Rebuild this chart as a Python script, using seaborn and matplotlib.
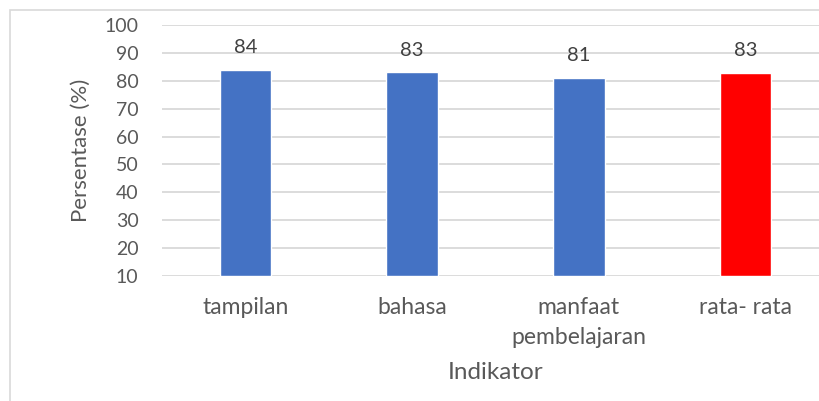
import matplotlib
matplotlib.use("Agg")
import matplotlib.pyplot as plt
import pandas as pd
import seaborn as sns
from matplotlib.patches import Rectangle

# data
categories = ["tampilan", "bahasa", "manfaat\npembelajaran", "rata- rata"]
values = [84, 83, 81, 82.67]
labels = ["84", "83", "81", "83"]
bar_colors = ["#4472C4", "#4472C4", "#4472C4", "#FF0000"]
y_ticks = [10, 20, 30, 40, 50, 60, 70, 80, 90, 100]

TEXT = "#595959"
GRID = "#D9D9D9"

sns.set_theme(style="white")
plt.rcParams["font.family"] = ["Lato", "DejaVu Sans"]

df = pd.DataFrame({"Indikator": categories, "Persentase": values})

fig = plt.figure(figsize=(8.19, 4.01), dpi=100)
ax = fig.add_axes([162 / 819, 125 / 401, 667 / 819, 251 / 401])

sns.barplot(
    data=df, x="Indikator", y="Persentase", hue="Indikator",
    palette=bar_colors, width=0.31, legend=False, ax=ax,
    saturation=1, zorder=3,
)
# bars start at the axis floor (10), like the original
for patch, v in zip(ax.patches, values):
    patch.set_y(10)
    patch.set_height(v - 10)

ax.set_ylim(10, 100)
ax.set_yticks(y_ticks)
ax.yaxis.grid(True, color=GRID, linewidth=1.3, zorder=0)
for s in ax.spines.values():
    s.set_visible(False)
ax.tick_params(axis="both", length=0, labelcolor=TEXT)
ax.tick_params(axis="y", pad=17, labelsize=14)
ax.tick_params(axis="x", pad=15, labelsize=16.5)
for t in ax.get_xticklabels():
    t.set_linespacing(1.55)

for patch, lab in zip(ax.patches, labels):
    ax.annotate(lab, (patch.get_x() + patch.get_width() / 2, patch.get_y() + patch.get_height()),
                xytext=(0, 10), textcoords="offset points", ha="center", va="bottom",
                fontsize=14.5, color="#404040")

ax.set_xlabel("Indikator", fontsize=17.5, color=TEXT, labelpad=10)
ax.set_ylabel("Persentase (%)", fontsize=16, color=TEXT, labelpad=10)

# outer chart border
fig.patches.append(Rectangle((10 / 819, -0.1), 1.2, (401 - 10) / 401 + 0.1,
                             transform=fig.transFigure, fill=False,
                             edgecolor=GRID, linewidth=1.2))

fig.savefig("out.png", dpi=100)
plt.close(fig)
